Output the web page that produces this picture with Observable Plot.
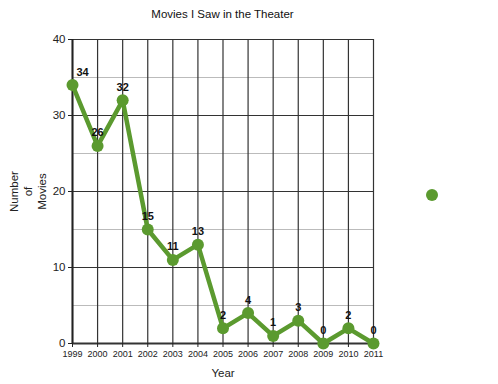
<!DOCTYPE html>
<html><head><meta charset="utf-8">
<script src="https://cdn.jsdelivr.net/npm/d3@7"></script>
<script src="https://cdn.jsdelivr.net/npm/@observablehq/plot@0.6"></script>
<style>
body{margin:0;background:#fff;font-family:"Liberation Sans",Arial,sans-serif;}
#wrap{position:relative;width:498px;height:384px;}
#title{position:absolute;left:0;width:445px;top:8px;text-align:center;font-size:11.5px;color:#111;}
#chart{position:absolute;left:0;top:30px;}
#legend{position:absolute;left:426px;top:189px;width:12px;height:12px;border-radius:50%;background:#5b9a2f;}
</style></head>
<body><div id="wrap"><div id="title">Movies I Saw in the Theater</div><div id="chart"></div><div id="legend"></div></div>
<script>
const years = [1999,2000,2001,2002,2003,2004,2005,2006,2007,2008,2009,2010,2011];
const counts = [34,26,32,15,11,13,2,4,1,3,0,2,0];
const yMajor = [0,10,20,30,40];
const yMinor = [5,15,25,35];
const data = years.map((y,i)=>({year:y,count:counts[i]}));
const green = "#5b9a2f";
const chart = Plot.plot({
  width:498, height:354,
  marginTop:9, marginBottom:41, marginLeft:72, marginRight:125,
  style:{fontFamily:"Liberation Sans, Arial, sans-serif", color:"#222"},
  x:{type:"linear", domain:[1999,2011]},
  y:{domain:[0,40]},
  marks:[
    Plot.ruleY(yMinor,{stroke:"#bbb",strokeWidth:1}),
    Plot.ruleY(yMajor,{stroke:"#333",strokeWidth:1.2}),
    Plot.ruleX(years,{stroke:"#333",strokeWidth:1.2}),
    Plot.ruleY([0],{stroke:"#333",strokeWidth:2}),
    Plot.ruleX([1999],{stroke:"#222",strokeWidth:2}),
    Plot.axisX({ticks:years, tickFormat:d=>String(d), tickSize:4, fontSize:9, tickPadding:3, label:null}),
    Plot.axisY({ticks:yMajor, tickSize:4, fontSize:11.5, tickPadding:3, label:null}),
    Plot.line(data,{x:"year",y:"count",stroke:green,strokeWidth:4.5,strokeLinejoin:"round"}),
    Plot.dot(data,{x:"year",y:"count",r:6,fill:green}),
    Plot.text(data.slice(0,1),{x:"year",y:"count",text:d=>String(d.count),dy:-13,dx:10,fontWeight:"bold",fontSize:11,fill:"#111"}),
    Plot.text(data.slice(1),{x:"year",y:"count",text:d=>String(d.count),dy:-13,fontWeight:"bold",fontSize:11,fill:"#111"}),
    Plot.text(["Year"],{frameAnchor:"bottom",dy:33,fontSize:11.5,fill:"#222"}),
    Plot.text(["Number\nof\nMovies"],{frameAnchor:"left",rotate:-90,dx:-45,fontSize:11.5,lineHeight:1.25,fill:"#222",textAnchor:"middle",lineAnchor:"middle"})
  ]
});
document.getElementById("chart").appendChild(chart);
</script></body></html>
